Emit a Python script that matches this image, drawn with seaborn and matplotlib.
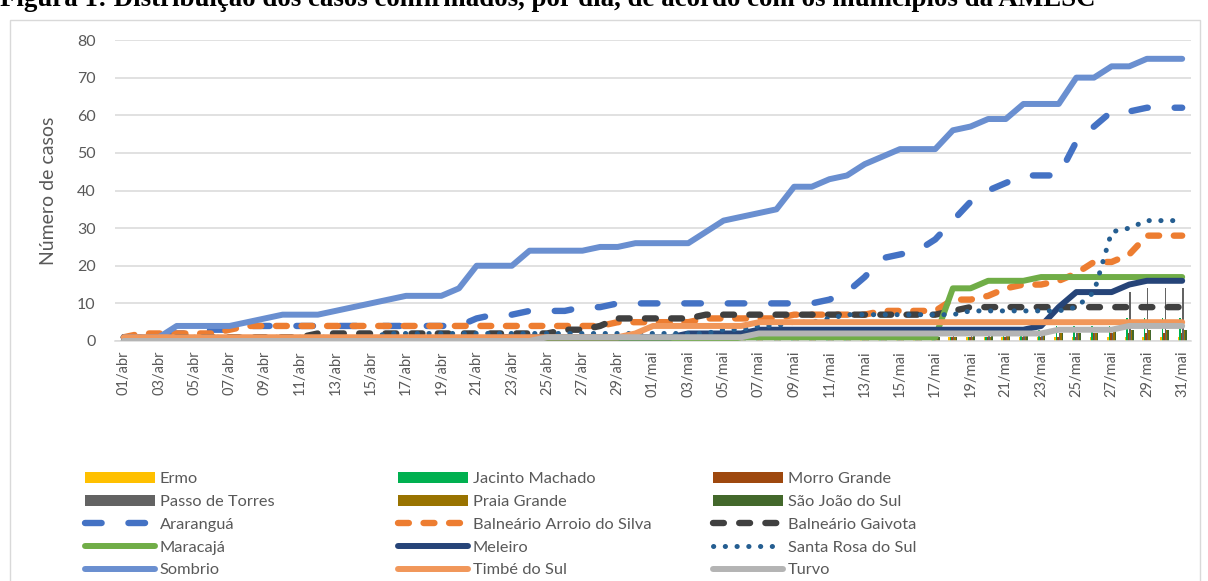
import matplotlib
matplotlib.use("Agg")
import matplotlib.pyplot as plt
import seaborn as sns
from matplotlib.patches import Patch, Rectangle
from matplotlib.lines import Line2D

# Datas (01/abr a 31/mai)
days = [f"{d:02d}/abr" for d in range(1, 31)] + [f"{d:02d}/mai" for d in range(1, 32)]
x = list(range(len(days)))

# Municipios em colunas (valores pequenos)
ermo = [0, 0, 0, 0, 0, 0, 0, 0, 0, 0,
        0, 0, 0, 0, 0, 0, 0, 0, 0, 0,
        0, 0, 0, 0, 0, 0, 0, 0, 0, 0,
        0, 0, 0, 0, 0, 0, 0, 0, 0, 0,
        0, 1, 1, 1, 1, 1, 1, 1, 1, 1,
        1, 1, 1, 1, 1, 1, 1, 1, 1, 1,
        1]
jacinto_machado = [0, 0, 0, 0, 0, 0, 0, 0, 0, 0,
                   0, 0, 0, 0, 0, 0, 0, 0, 0, 0,
                   0, 0, 0, 0, 0, 0, 0, 0, 0, 0,
                   1, 1, 1, 1, 1, 1, 1, 1, 1, 1,
                   1, 1, 1, 1, 1, 1, 1, 1, 1, 1,
                   3, 3, 3, 4, 4, 4, 4, 6, 6, 6,
                   6]
morro_grande = [0, 0, 0, 0, 0, 0, 0, 0, 0, 0,
                0, 0, 0, 0, 0, 0, 0, 0, 0, 0,
                0, 0, 0, 0, 0, 1, 1, 1, 1, 1,
                1, 1, 1, 1, 1, 1, 1, 1, 1, 1,
                1, 1, 1, 1, 1, 1, 1, 1, 1, 1,
                1, 1, 1, 1, 1, 2, 2, 2, 2, 2,
                2]
passo_de_torres = [0, 0, 0, 0, 0, 0, 0, 0, 0, 0,
                   0, 0, 0, 0, 0, 0, 0, 0, 0, 0,
                   0, 0, 0, 0, 0, 0, 0, 0, 0, 0,
                   1, 1, 1, 1, 1, 1, 1, 1, 1, 1,
                   1, 1, 1, 1, 1, 2, 2, 2, 2, 2,
                   2, 2, 2, 2, 2, 2, 2, 13, 14, 14,
                   14]
praia_grande = [0, 0, 0, 0, 0, 0, 0, 0, 0, 0,
                0, 0, 0, 0, 0, 0, 0, 0, 0, 0,
                0, 0, 0, 0, 0, 0, 0, 1, 1, 1,
                1, 1, 1, 1, 1, 1, 1, 1, 1, 1,
                1, 1, 1, 1, 1, 1, 1, 1, 1, 1,
                2, 2, 2, 2, 2, 2, 3, 3, 3, 3,
                3]
sao_joao_do_sul = [0, 0, 0, 0, 0, 0, 0, 0, 0, 0,
                   0, 0, 0, 0, 0, 0, 0, 0, 0, 0,
                   0, 0, 0, 0, 0, 0, 0, 0, 0, 0,
                   0, 0, 0, 0, 0, 1, 1, 1, 1, 1,
                   1, 1, 1, 1, 1, 1, 1, 1, 2, 2,
                   2, 2, 2, 2, 2, 2, 3, 3, 3, 3,
                   3]

# Municipios em linhas
ararangua = [1, 1, 2, 2, 2, 3, 3, 4, 4, 4,
             4, 4, 4, 4, 4, 4, 4, 4, 4, 4,
             6, 7, 7, 8, 8, 8, 9, 9, 10, 10,
             10, 10, 10, 10, 10, 10, 10, 10, 10, 10,
             11, 13, 17, 22, 23, 24, 27, 32, 37, 40,
             42, 44, 44, 44, 53, 57, 61, 61, 62, 62,
             62]
arroio_do_silva = [1, 2, 2, 2, 2, 2, 3, 4, 4, 4,
                   4, 4, 4, 4, 4, 4, 4, 4, 4, 4,
                   4, 4, 4, 4, 4, 4, 4, 4, 5, 5,
                   5, 5, 5, 6, 6, 6, 6, 6, 7, 7,
                   7, 7, 7, 8, 8, 8, 8, 11, 11, 12,
                   14, 15, 15, 16, 18, 21, 21, 23, 28, 28,
                   28]
gaivota = [1, 1, 1, 1, 1, 1, 1, 1, 1, 1,
           1, 2, 2, 2, 2, 2, 2, 2, 2, 2,
           2, 2, 2, 2, 2, 3, 3, 4, 6, 6,
           6, 6, 6, 7, 7, 7, 7, 7, 7, 7,
           7, 7, 7, 7, 7, 7, 7, 8, 9, 9,
           9, 9, 9, 9, 9, 9, 9, 9, 9, 9,
           9]
maracaja = [0, 0, 0, 0, 0, 0, 0, 0, 0, 0,
            0, 0, 0, 0, 0, 0, 0, 0, 0, 0,
            0, 0, 0, 0, 0, 0, 0, 0, 0, 0,
            0, 0, 0, 0, 0, 1, 1, 1, 1, 1,
            1, 1, 1, 1, 1, 1, 1, 14, 14, 16,
            16, 16, 17, 17, 17, 17, 17, 17, 17, 17,
            17]
meleiro = [0, 0, 0, 0, 0, 0, 0, 0, 0, 0,
           0, 0, 0, 0, 0, 0, 0, 0, 0, 0,
           0, 1, 1, 1, 1, 1, 1, 1, 1, 1,
           1, 1, 2, 2, 2, 2, 3, 3, 3, 3,
           3, 3, 3, 3, 3, 3, 3, 3, 3, 3,
           3, 3, 4, 9, 13, 13, 13, 15, 16, 16,
           16]
santa_rosa = [1, 1, 1, 1, 1, 1, 1, 1, 1, 1,
              1, 1, 1, 1, 1, 2, 2, 2, 2, 2,
              2, 2, 2, 2, 2, 2, 2, 2, 2, 2,
              2, 2, 2, 2, 3, 3, 4, 4, 5, 5,
              6, 7, 7, 7, 7, 7, 7, 7, 8, 8,
              8, 8, 8, 8, 9, 13, 29, 30, 32, 32,
              32]
sombrio = [1, 1, 1, 4, 4, 4, 4, 5, 6, 7,
           7, 7, 8, 9, 10, 11, 12, 12, 12, 14,
           20, 20, 20, 24, 24, 24, 24, 25, 25, 26,
           26, 26, 26, 29, 32, 33, 34, 35, 41, 41,
           43, 44, 47, 49, 51, 51, 51, 56, 57, 59,
           59, 63, 63, 63, 70, 70, 73, 73, 75, 75,
           75]
timbe_do_sul = [1, 1, 1, 1, 1, 1, 1, 1, 1, 1,
                1, 1, 1, 1, 1, 1, 1, 1, 1, 1,
                1, 1, 1, 1, 1, 1, 1, 1, 1, 2,
                4, 4, 4, 4, 4, 4, 5, 5, 5, 5,
                5, 5, 5, 5, 5, 5, 5, 5, 5, 5,
                5, 5, 5, 5, 5, 5, 5, 5, 5, 5,
                5]
turvo = [0, 0, 0, 0, 0, 0, 0, 0, 0, 0,
         0, 0, 0, 0, 0, 0, 0, 0, 0, 0,
         0, 0, 0, 0, 1, 1, 1, 1, 1, 1,
         1, 1, 1, 1, 1, 1, 2, 2, 2, 2,
         2, 2, 2, 2, 2, 2, 2, 2, 2, 2,
         2, 2, 2, 3, 3, 3, 3, 4, 4, 4,
         4]

bar_series = [
    ("Ermo", ermo, "#FFC000"),
    ("Jacinto Machado", jacinto_machado, "#00B050"),
    ("Morro Grande", morro_grande, "#9E480E"),
    ("Passo de Torres", passo_de_torres, "#636363"),
    ("Praia Grande", praia_grande, "#997300"),
    ("São João do Sul", sao_joao_do_sul, "#43682B"),
]
# nome, valores, cor, largura, tracejado (em unidades de largura)
line_series = [
    ("Araranguá", ararangua, "#4472C4", 4.6, (2.6, 4.2)),
    ("Balneário Arroio do Silva", arroio_do_silva, "#ED7D31", 4.6, (1.7, 2.3)),
    ("Balneário Gaivota", gaivota, "#404040", 4.6, (1.7, 2.4)),
    ("Maracajá", maracaja, "#70AD47", 4.3, None),
    ("Meleiro", meleiro, "#264478", 4.3, None),
    ("Santa Rosa do Sul", santa_rosa, "#255E91", 3.6, (0.05, 2.3)),
    ("Sombrio", sombrio, "#6A8FD0", 4.3, None),
    ("Timbé do Sul", timbe_do_sul, "#F1975A", 4.3, None),
    ("Turvo", turvo, "#B4B4B4", 4.3, None),
]

sns.set_theme(style="white")
plt.rcParams["font.family"] = ["Lato", "DejaVu Sans"]
text_color = "#595959"

fig = plt.figure(figsize=(12.08, 5.81), dpi=100)
ax = fig.add_axes([115 / 1208, 1 - 341 / 581, (1191 - 115) / 1208, (341 - 40) / 581])

# colunas agrupadas
bar_w = 0.5 / len(bar_series)
for k, (name, vals, color) in enumerate(bar_series):
    offs = (k - (len(bar_series) - 1) / 2) * bar_w
    ax.bar([i + offs for i in x], vals, width=bar_w, color=color, zorder=1, linewidth=0)

# linhas
for name, vals, color, lw, dash in line_series:
    sns.lineplot(x=x, y=vals, ax=ax, color=color, linewidth=lw, zorder=3)
    ln = ax.lines[-1]
    ln.set_solid_capstyle("round")
    ln.set_solid_joinstyle("round")
    if dash is not None:
        ln.set_linestyle((0, dash))
        ln.set_dash_capstyle("round")

ax.set_xlim(-0.5, len(days) - 0.5)
ax.set_ylim(0, 80)
ax.set_yticks(range(0, 81, 10))
ax.set_xticks(x[::2])
ax.set_xticklabels(days[::2], rotation=90)
ax.tick_params(axis="y", length=0, labelsize=11.5, labelcolor=text_color, pad=14)
ax.tick_params(axis="x", length=0, labelsize=10.5, labelcolor=text_color, pad=7)
ax.grid(axis="y", color="#D9D9D9", linewidth=1.1, zorder=0)
ax.set_axisbelow(True)
for s in ["top", "right", "left"]:
    ax.spines[s].set_visible(False)
ax.spines["bottom"].set_color("#D9D9D9")
ax.spines["bottom"].set_linewidth(1.1)
ax.set_ylabel("Número de casos", fontsize=14, color=text_color)
ax.yaxis.set_label_coords((57 - 115) / 1076, 0.5)
ax.set_xlabel("")

# legenda em tres colunas
handles = {}
for name, vals, color in bar_series:
    handles[name] = Patch(facecolor=color, edgecolor="none")
for name, vals, color, lw, dash in line_series:
    ls = "-" if dash is None else (0, dash)
    handles[name] = Line2D([], [], color=color, linewidth=lw, linestyle=ls,
                           solid_capstyle="round", dash_capstyle="round")

columns = [
    ["Ermo", "Passo de Torres", "Araranguá", "Maracajá", "Sombrio"],
    ["Jacinto Machado", "Praia Grande", "Balneário Arroio do Silva", "Meleiro", "Timbé do Sul"],
    ["Morro Grande", "São João do Sul", "Balneário Gaivota", "Santa Rosa do Sul", "Turvo"],
]
col_x = [85, 398, 713]
for cx, names in zip(col_x, columns):
    leg = fig.legend([handles[n] for n in names], names, loc="upper left",
                     bbox_to_anchor=(cx / 1208, 1 - 472 / 581), frameon=False,
                     fontsize=11.8, handlelength=4.25, handletextpad=0.3,
                     labelspacing=0.505, borderpad=0, borderaxespad=0)
    for t in leg.get_texts():
        t.set_color(text_color)

# titulo (cortado no topo, como no original)
fig.text(0.0, 1 - 6 / 581,
         "Figura 1: Distribuição dos casos confirmados, por dia, de acordo com os municípios da AMESC",
         fontfamily="Liberation Serif", fontweight="bold", fontsize=19.4,
         ha="left", va="baseline", color="black")

# moldura do grafico
fig.patches.append(Rectangle((10 / 1208, -0.05), 1190 / 1208, 0.05 + 1 - 20 / 581,
                             transform=fig.transFigure, fill=False,
                             edgecolor="#D9D9D9", linewidth=1))

fig.savefig("out.png", dpi=100)
